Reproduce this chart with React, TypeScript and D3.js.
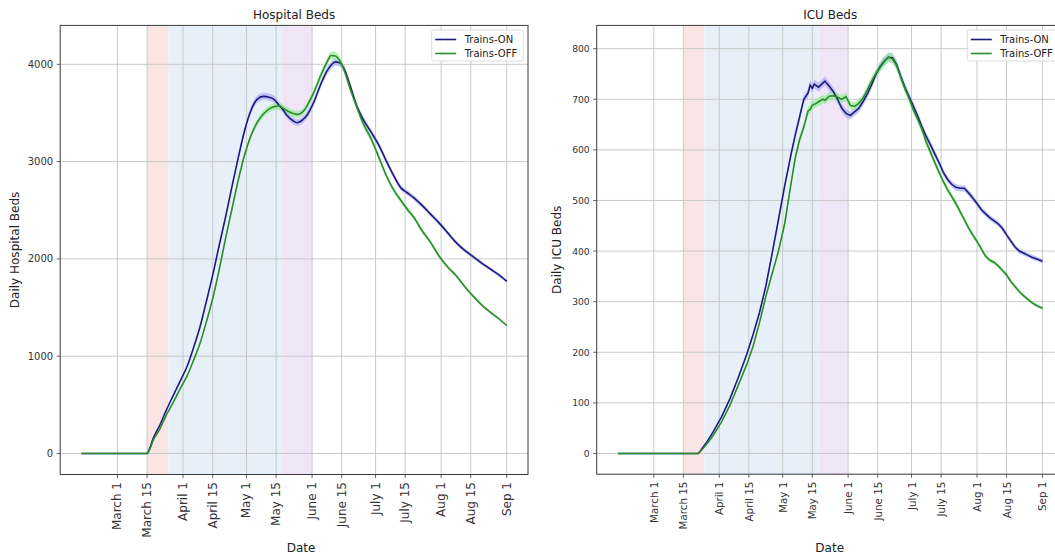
import React from 'react';
import * as d3 from 'd3';

// ---- data (day offsets from 2020-03-01) ----
const BASE_DATE = '2020-03-01';

const hospDays = [-17, 0, 14, 15, 17, 20, 23, 26, 30, 33, 36, 39, 42, 45, 48, 51, 54, 57, 60, 63, 66, 69, 72, 74, 76, 78, 80, 83, 85, 87, 89, 91, 93, 96, 99, 101, 103, 105, 107, 110, 113, 116, 120, 124, 127, 130, 134, 137, 140, 144, 148, 152, 156, 160, 164, 168, 172, 176, 180, 184];
const hospOn = [0, 0, 0, 40, 160, 290, 440, 580, 760, 900, 1090, 1300, 1560, 1830, 2130, 2420, 2730, 3030, 3310, 3520, 3640, 3670, 3660, 3640, 3590, 3540, 3480, 3420, 3400, 3420, 3460, 3530, 3620, 3790, 3930, 3990, 4025, 4015, 3960, 3780, 3580, 3440, 3300, 3150, 3010, 2880, 2730, 2680, 2630, 2550, 2460, 2370, 2270, 2170, 2090, 2025, 1960, 1900, 1840, 1770];
const hospOff = [0, 0, 0, 30, 140, 250, 390, 510, 680, 800, 960, 1130, 1350, 1590, 1880, 2200, 2500, 2800, 3060, 3260, 3400, 3490, 3545, 3565, 3572, 3555, 3525, 3495, 3485, 3500, 3550, 3630, 3720, 3880, 4020, 4090, 4085, 4040, 3950, 3750, 3570, 3400, 3230, 3020, 2860, 2730, 2600, 2510, 2430, 2290, 2170, 2030, 1920, 1830, 1720, 1620, 1530, 1455, 1390, 1315];

const icuDays = [-17, 0, 21, 22, 25, 28, 32, 36, 40, 44, 47, 50, 53, 56, 59, 62, 65, 67, 69, 71, 73, 74, 75, 76, 78, 80, 81, 83, 85, 87, 89, 91, 93, 95, 97, 99, 101, 103, 105, 107, 109, 111, 113, 115, 117, 119, 121, 123, 125, 127, 129, 131, 133, 135, 137, 139, 141, 143, 145, 147, 149, 151, 153, 155, 157, 159, 161, 163, 165, 167, 169, 171, 173, 175, 177, 179, 181, 184];
const icuOn = [0, 0, 0, 5, 22, 42, 72, 108, 150, 196, 235, 278, 330, 395, 462, 530, 592, 630, 665, 700, 712, 728, 722, 730, 724, 732, 736, 726, 715, 700, 682, 672, 668, 675, 682, 695, 710, 728, 748, 764, 775, 783, 782, 768, 744, 722, 704, 685, 666, 645, 626, 610, 592, 575, 556, 542, 532, 526, 524, 524, 515, 505, 494, 482, 474, 466, 460, 454, 445, 432, 420, 408, 400, 396, 392, 388, 385, 380];
const icuOff = [0, 0, 0, 4, 18, 35, 62, 95, 135, 176, 212, 258, 310, 355, 400, 455, 535, 585, 620, 645, 677, 680, 688, 690, 695, 700, 698, 706, 707, 704, 700, 705, 688, 686, 692, 702, 718, 735, 750, 762, 774, 783, 780, 766, 742, 720, 700, 678, 660, 640, 615, 595, 575, 556, 538, 522, 508, 494, 478, 462, 446, 432, 419, 405, 390, 382, 378, 371, 362, 353, 340, 330, 320, 312, 305, 298, 293, 287];

const tickDates = ['2020-03-01', '2020-03-15', '2020-04-01', '2020-04-15', '2020-05-01', '2020-05-15', '2020-06-01', '2020-06-15', '2020-07-01', '2020-07-15', '2020-08-01', '2020-08-15', '2020-09-01'];
const tickLabels = ['March 1', 'March 15', 'April 1', 'April 15', 'May 1', 'May 15', 'June 1', 'June 15', 'July 1', 'July 15', 'Aug 1', 'Aug 15', 'Sep 1'];

const hospYTicks = [0, 1000, 2000, 3000, 4000];
const icuYTicks = [0, 100, 200, 300, 400, 500, 600, 700, 800];
const hospYLimits = [-216, 4400];
const icuYLimits = [-41, 846];

const periodStarts = ['2020-03-15', '2020-03-25', '2020-05-18'];
const periodEnds = ['2020-03-25', '2020-05-18', '2020-06-01'];

const seriesNames = ['Trains-ON', 'Trains-OFF'];

// ---- styles ----
const FONT = 'DejaVu Sans, sans-serif';
const PERIOD_COLORS = ['#fae5e5', '#e7f0f8', '#efe5f7'];
const ON_COLOR = '#1c1c80';
const OFF_COLOR = '#2a8c2a';
const ON_BAND = '#aeaef5';
const OFF_BAND = '#98ea98';
const GRID = '#c4c4c4';
const SPINE = '#3a3a3a';

const base = new Date(BASE_DATE + 'T00:00:00Z');
const dayToDate = (d: number) => d3.utcDay.offset(base, d);
const parse = (s: string) => new Date(s + 'T00:00:00Z');

type ChartProps = {
  id: string;
  left: number; right: number; top: number; bottom: number;
  yLimits: number[]; yTicks: number[];
  days: number[]; on: number[]; off: number[];
  title: string; ylabel: string; ylabelX: number; dateX: number;
  yTickFont: number; xTickFont: number; bandPct: number;
  smooth: boolean; legendX: number;
};

function Chart(p: ChartProps) {
  const d0 = dayToDate(p.days[0]);
  const d1 = dayToDate(p.days[p.days.length - 1]);
  const pad = (d1.getTime() - d0.getTime()) * 0.05;
  const x = d3.scaleUtc().domain([new Date(d0.getTime() - pad), new Date(d1.getTime() + pad)]).range([p.left, p.right]);
  const y = d3.scaleLinear().domain(p.yLimits).range([p.bottom, p.top]);
  const curve = p.smooth ? d3.curveMonotoneX : d3.curveLinear;

  const line = d3.line<number>().x((_, i) => x(dayToDate(p.days[i]))).y(v => y(v)).curve(curve);
  const area = d3.area<number>()
    .x((_, i) => x(dayToDate(p.days[i])))
    .y0(v => y(v * (1 - p.bandPct)))
    .y1(v => y(v * (1 + p.bandPct)))
    .curve(curve);

  const cx = (p.left + p.right) / 2;
  const ticks = tickDates.map(parse);
  const ly = 30;

  return (
    <g>
      <defs>
        <clipPath id={p.id}>
          <rect x={p.left} y={p.top} width={p.right - p.left} height={p.bottom - p.top} />
        </clipPath>
      </defs>
      <rect x={p.left} y={p.top} width={p.right - p.left} height={p.bottom - p.top} fill="#fff" />
      <g clipPath={`url(#${p.id})`}>
        {periodStarts.map((s, i) => (
          <rect key={i} x={x(parse(s))} y={p.top} width={x(parse(periodEnds[i])) - x(parse(s))}
            height={p.bottom - p.top} fill={PERIOD_COLORS[i]} />
        ))}
        {ticks.map((t, i) => (
          <line key={'gx' + i} x1={x(t)} x2={x(t)} y1={p.top} y2={p.bottom} stroke={GRID} strokeWidth={0.9} />
        ))}
        {p.yTicks.map((v, i) => (
          <line key={'gy' + i} x1={p.left} x2={p.right} y1={y(v)} y2={y(v)} stroke={GRID} strokeWidth={0.9} />
        ))}
        <path d={area(p.on) || ''} fill={ON_BAND} opacity={0.7} />
        <path d={area(p.off) || ''} fill={OFF_BAND} opacity={0.7} />
        <path d={line(p.on) || ''} fill="none" stroke={ON_COLOR} strokeWidth={1.6} />
        <path d={line(p.off) || ''} fill="none" stroke={OFF_COLOR} strokeWidth={1.6} />
      </g>
      <rect x={p.left} y={p.top} width={p.right - p.left} height={p.bottom - p.top} fill="none" stroke={SPINE} strokeWidth={1} />
      {/* y ticks */}
      {p.yTicks.map((v, i) => (
        <g key={'yt' + i}>
          <line x1={p.left - 3.5} x2={p.left} y1={y(v)} y2={y(v)} stroke={SPINE} strokeWidth={0.8} />
          <text x={p.left - 7} y={y(v)} textAnchor="end" dominantBaseline="central" fontSize={p.yTickFont} fill="#333" fontFamily={FONT}>{v}</text>
        </g>
      ))}
      {/* x ticks */}
      {ticks.map((t, i) => (
        <g key={'xt' + i}>
          <line x1={x(t)} x2={x(t)} y1={p.bottom} y2={p.bottom + 3.5} stroke={SPINE} strokeWidth={0.8} />
          <text transform={`translate(${x(t)},${p.bottom + 7.5}) rotate(-90)`} textAnchor="end" dominantBaseline="central"
            fontSize={p.xTickFont} fill="#333" fontFamily={FONT}>{tickLabels[i]}</text>
        </g>
      ))}
      <text x={cx} y={14.5} textAnchor="middle" dominantBaseline="central" fontSize={12} fill="#222" fontFamily={FONT}>{p.title}</text>
      <text x={p.dateX} y={548} textAnchor="middle" dominantBaseline="central" fontSize={12} fill="#222" fontFamily={FONT}>Date</text>
      <text transform={`translate(${p.ylabelX},${(p.top + p.bottom) / 2}) rotate(-90)`} textAnchor="middle" dominantBaseline="central"
        fontSize={12} fill="#222" fontFamily={FONT}>{p.ylabel}</text>
      {/* legend */}
      <g>
        <rect x={p.legendX} y={ly} width={91.5} height={31} rx={2} fill="#fff" fillOpacity={0.85} stroke="#d4d4d4" strokeWidth={0.8} />
        {seriesNames.map((n, i) => (
          <g key={n}>
            <line x1={p.legendX + 3.5} x2={p.legendX + 24.5} y1={ly + 9.5 + i * 14} y2={ly + 9.5 + i * 14}
              stroke={i === 0 ? ON_COLOR : OFF_COLOR} strokeWidth={1.6} />
            <text x={p.legendX + 33} y={ly + 9.5 + i * 14} dominantBaseline="central" fontSize={10} fill="#222" fontFamily={FONT}>{n}</text>
          </g>
        ))}
      </g>
    </g>
  );
}

export default function App() {
  return (
    <svg width={1055} height={554} style={{ position: 'absolute', left: 0, top: 0, background: '#fff' }}>
      <rect x={0} y={0} width={1055} height={554} fill="#fff" />
      <Chart id="clipA" left={60.2} right={528} top={25.4} bottom={474.5}
        yLimits={hospYLimits} yTicks={hospYTicks} days={hospDays} on={hospOn} off={hospOff}
        title="Hospital Beds" ylabel="Daily Hospital Beds" ylabelX={15} dateX={301}
        yTickFont={10} xTickFont={12} bandPct={0.01} smooth={true} legendX={431.7} />
      <Chart id="clipB" left={596.7} right={1063.7} top={25.4} bottom={474.2}
        yLimits={icuYLimits} yTicks={icuYTicks} days={icuDays} on={icuOn} off={icuOff}
        title="ICU Beds" ylabel="Daily ICU Beds" ylabelX={557} dateX={829.7}
        yTickFont={9.2} xTickFont={10.3} bandPct={0.012} smooth={false} legendX={967.3} />
    </svg>
  );
}
